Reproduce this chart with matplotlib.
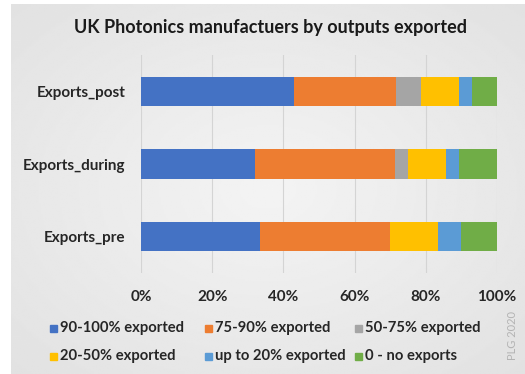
import numpy as np
import matplotlib.pyplot as plt
from matplotlib.patches import Rectangle

categories = ['Exports_pre', 'Exports_during', 'Exports_post']
series_names = ['90-100% exported', '75-90% exported', '50-75% exported',
                '20-50% exported', 'up to 20% exported', '0 - no exports']
colors = ['#4472C4', '#ED7D31', '#A5A5A5', '#FFC000', '#5B9BD5', '#70AD47']

# shares (%) per series, ordered as categories
s_90_100 = [33.3, 32.1, 42.9]
s_75_90 = [36.7, 39.3, 28.6]
s_50_75 = [0.0, 3.6, 7.1]
s_20_50 = [13.3, 10.7, 10.7]
s_upto20 = [6.7, 3.6, 3.6]
s_none = [10.0, 10.7, 7.1]
series = [s_90_100, s_75_90, s_50_75, s_20_50, s_upto20, s_none]

xticks = [0, 20, 40, 60, 80, 100]
xticklabels = ['0%', '20%', '40%', '60%', '80%', '100%']

W, H = 525, 374
plt.rcParams['font.family'] = ['Lato', 'DejaVu Sans']
fig = plt.figure(figsize=(W / 100, H / 100), dpi=100)
fig.patch.set_facecolor('white')

# soft grey background panel
bg = fig.add_axes([11 / W, 0, 1 - 11 / W, 1 - 4 / H])
yy, xx = np.mgrid[-1:1:200j, -1:1:300j]
r = np.sqrt(xx ** 2 + yy ** 2)
bg.imshow(0.955 - 0.05 * r, cmap='gray', vmin=0, vmax=1, aspect='auto',
          extent=[0, 1, 0, 1])
bg.axis('off')


def fx(px):
    return px / W


def fy(py):
    return 1 - py / H


ax = fig.add_axes([fx(141), fy(273), fx(497) - fx(141), fy(55) - fy(273)])
ax.patch.set_alpha(0)

left = np.zeros(len(categories))
for vals, c in zip(series, colors):
    ax.barh(categories, vals, left=left, height=0.4, color=c, zorder=3)
    left += np.array(vals)

ax.set_xlim(0, 100)
ax.set_ylim(-0.5, 2.5)
ax.set_xticks(xticks)
ax.set_xticklabels(xticklabels)
ax.grid(axis='x', color='#d4d4d4', linewidth=0.8, zorder=0)
for s in ax.spines.values():
    s.set_visible(False)
ax.tick_params(length=0, labelsize=11, labelcolor='#262626')
ax.tick_params(axis='x', pad=12)
ax.tick_params(axis='y', pad=11)
for t in ax.get_xticklabels() + ax.get_yticklabels():
    t.set_fontweight('bold')

fig.text(fx(270), fy(27), 'UK Photonics manufactuers by outputs exported',
         ha='center', va='center', fontsize=13, fontweight='bold', color='#1a1a1a')

# legend, laid out like the original (two rows, three columns)
legend_pos = [(53, 328), (208, 328), (358, 328),
              (53, 356), (208, 356), (358, 356)]
for (px, py), name, c in zip(legend_pos, series_names, colors):
    fig.patches.append(Rectangle((fx(px - 3.5), fy(py + 3.5)), fx(7), 7 / H,
                                 transform=fig.transFigure, color=c))
    fig.text(fx(px + 7), fy(py), name, ha='left', va='center',
             fontsize=10.6, fontweight='bold', color='#262626')

fig.text(fx(512), fy(335), 'PLG 2020', rotation=90, ha='center', va='center',
         fontsize=8, color='#b3b3b3')

fig.savefig('out.png', dpi=100)
